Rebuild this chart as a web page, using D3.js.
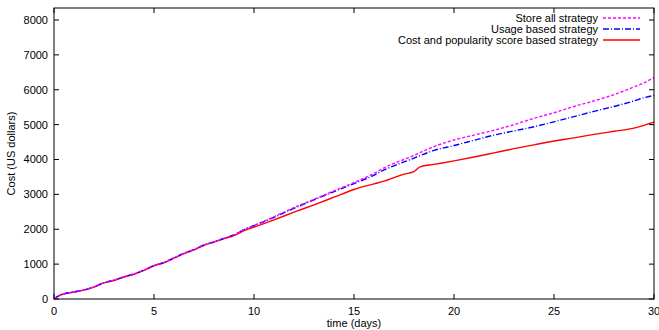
<!DOCTYPE html>
<html>
<head>
<meta charset="utf-8">
<script src="https://cdn.jsdelivr.net/npm/d3@7"></script>
<style>
  html, body { margin: 0; padding: 0; background: #fff; }
  svg { display: block; font-family: "Liberation Sans", Arial, sans-serif; }
</style>
</head>
<body>
<svg id="chart" width="659" height="330"></svg>
<script>
// ---- data ----
const days = [0, 0.3, 1, 1.5, 2, 2.5, 3, 3.5, 4, 4.5, 5, 5.5, 6, 6.5, 7, 7.5, 8, 8.5, 9, 9.5, 10,
  11, 12, 13, 14, 15, 16, 16.5, 17, 17.5, 18, 18.3, 19, 20, 21, 22, 23, 24, 25, 26, 27, 28, 29, 29.5, 30];
const storeAll = [0, 110, 200, 260, 350, 470, 540, 640, 720, 830, 960, 1050, 1180, 1310, 1420, 1550, 1640, 1740, 1840, 1990, 2110,
  2360, 2620, 2860, 3100, 3340, 3600, 3760, 3890, 4000, 4120, 4200, 4370, 4560, 4700, 4840, 5000, 5180, 5340, 5520, 5680, 5860, 6080, 6200, 6350];
const usageBased = [0, 110, 200, 260, 350, 470, 540, 640, 720, 830, 960, 1050, 1180, 1310, 1420, 1550, 1640, 1740, 1840, 1990, 2100,
  2340, 2600, 2840, 3080, 3310, 3550, 3700, 3820, 3930, 4040, 4110, 4260, 4400, 4550, 4700, 4820, 4940, 5080, 5230, 5380, 5520, 5680, 5770, 5840];
const costPopularity = [0, 110, 200, 255, 340, 460, 530, 630, 710, 820, 950, 1040, 1170, 1300, 1410, 1540, 1630, 1730, 1820, 1960, 2060,
  2270, 2490, 2700, 2920, 3140, 3300, 3380, 3480, 3580, 3650, 3790, 3860, 3960, 4070, 4190, 4310, 4420, 4530, 4620, 4720, 4810, 4900, 4980, 5070];
const seriesNames = ["Store all strategy", "Usage based strategy", "Cost and popularity score based strategy"];
const xTicks = [0, 5, 10, 15, 20, 25, 30];
const yTicks = [0, 1000, 2000, 3000, 4000, 5000, 6000, 7000, 8000];
const xTitle = "time (days)";
const yTitle = "Cost (US dollars)";

(function () {
  // ---- layout ----
  const pLeft = 54, pRight = 654, pTop = 8, pBottom = 299;
  const x = d3.scaleLinear().domain([0, 30]).range([pLeft, pRight]);
  const y = d3.scaleLinear().domain([0, 8344]).range([pBottom, pTop]);

  const svg = d3.select("#chart");
  const styles = [
    { color: "#ff00ff", dash: "3,2" },
    { color: "#0000ff", dash: "6,2,1,2" },
    { color: "#ff0000", dash: null }
  ];
  const values = [storeAll, usageBased, costPopularity];

  // ticks (inside, mirrored)
  const tickLen = 5;
  const g = svg.append("g");
  xTicks.forEach(t => {
    g.append("line").attr("x1", x(t)).attr("x2", x(t)).attr("y1", pBottom).attr("y2", pBottom - tickLen).attr("stroke", "#000");
    g.append("line").attr("x1", x(t)).attr("x2", x(t)).attr("y1", pTop).attr("y2", pTop + tickLen).attr("stroke", "#000");
    g.append("text").attr("x", x(t)).attr("y", pBottom + 16).attr("text-anchor", "middle")
      .attr("font-size", 11).text(t);
  });
  yTicks.forEach(t => {
    g.append("line").attr("x1", pLeft).attr("x2", pLeft + tickLen).attr("y1", y(t)).attr("y2", y(t)).attr("stroke", "#000");
    g.append("line").attr("x1", pRight).attr("x2", pRight - tickLen).attr("y1", y(t)).attr("y2", y(t)).attr("stroke", "#000");
    g.append("text").attr("x", pLeft - 6).attr("y", y(t) + 4).attr("text-anchor", "end")
      .attr("font-size", 11).text(t);
  });

  // lines
  const line = d3.line().x((d, i) => x(days[i])).y(d => y(d)).curve(d3.curveMonotoneX);
  [2, 1, 0].forEach(k => {
    const p = svg.append("path").datum(values[k]).attr("d", line)
      .attr("fill", "none").attr("stroke", styles[k].color).attr("stroke-width", 1.4);
    if (styles[k].dash) p.attr("stroke-dasharray", styles[k].dash);
  });

  // frame
  svg.append("rect").attr("x", pLeft).attr("y", pTop).attr("width", pRight - pLeft).attr("height", pBottom - pTop)
    .attr("fill", "none").attr("stroke", "#000").attr("stroke-width", 1);

  // titles
  svg.append("text").attr("x", (pLeft + pRight) / 2).attr("y", 327).attr("text-anchor", "middle")
    .attr("font-size", 11).text(xTitle);
  svg.append("text").attr("transform", `translate(15,${(pTop + pBottom) / 2}) rotate(-90)`)
    .attr("text-anchor", "middle").attr("font-size", 11).text(yTitle);

  // legend
  const legY = [18, 29, 40];
  seriesNames.forEach((name, k) => {
    svg.append("text").attr("x", 598).attr("y", legY[k] + 4).attr("text-anchor", "end")
      .attr("font-size", 11).text(name);
    const l = svg.append("line").attr("x1", 603).attr("x2", 640).attr("y1", legY[k]).attr("y2", legY[k])
      .attr("stroke", styles[k].color).attr("stroke-width", 1.4);
    if (styles[k].dash) l.attr("stroke-dasharray", styles[k].dash);
  });
})();
</script>
</body>
</html>
